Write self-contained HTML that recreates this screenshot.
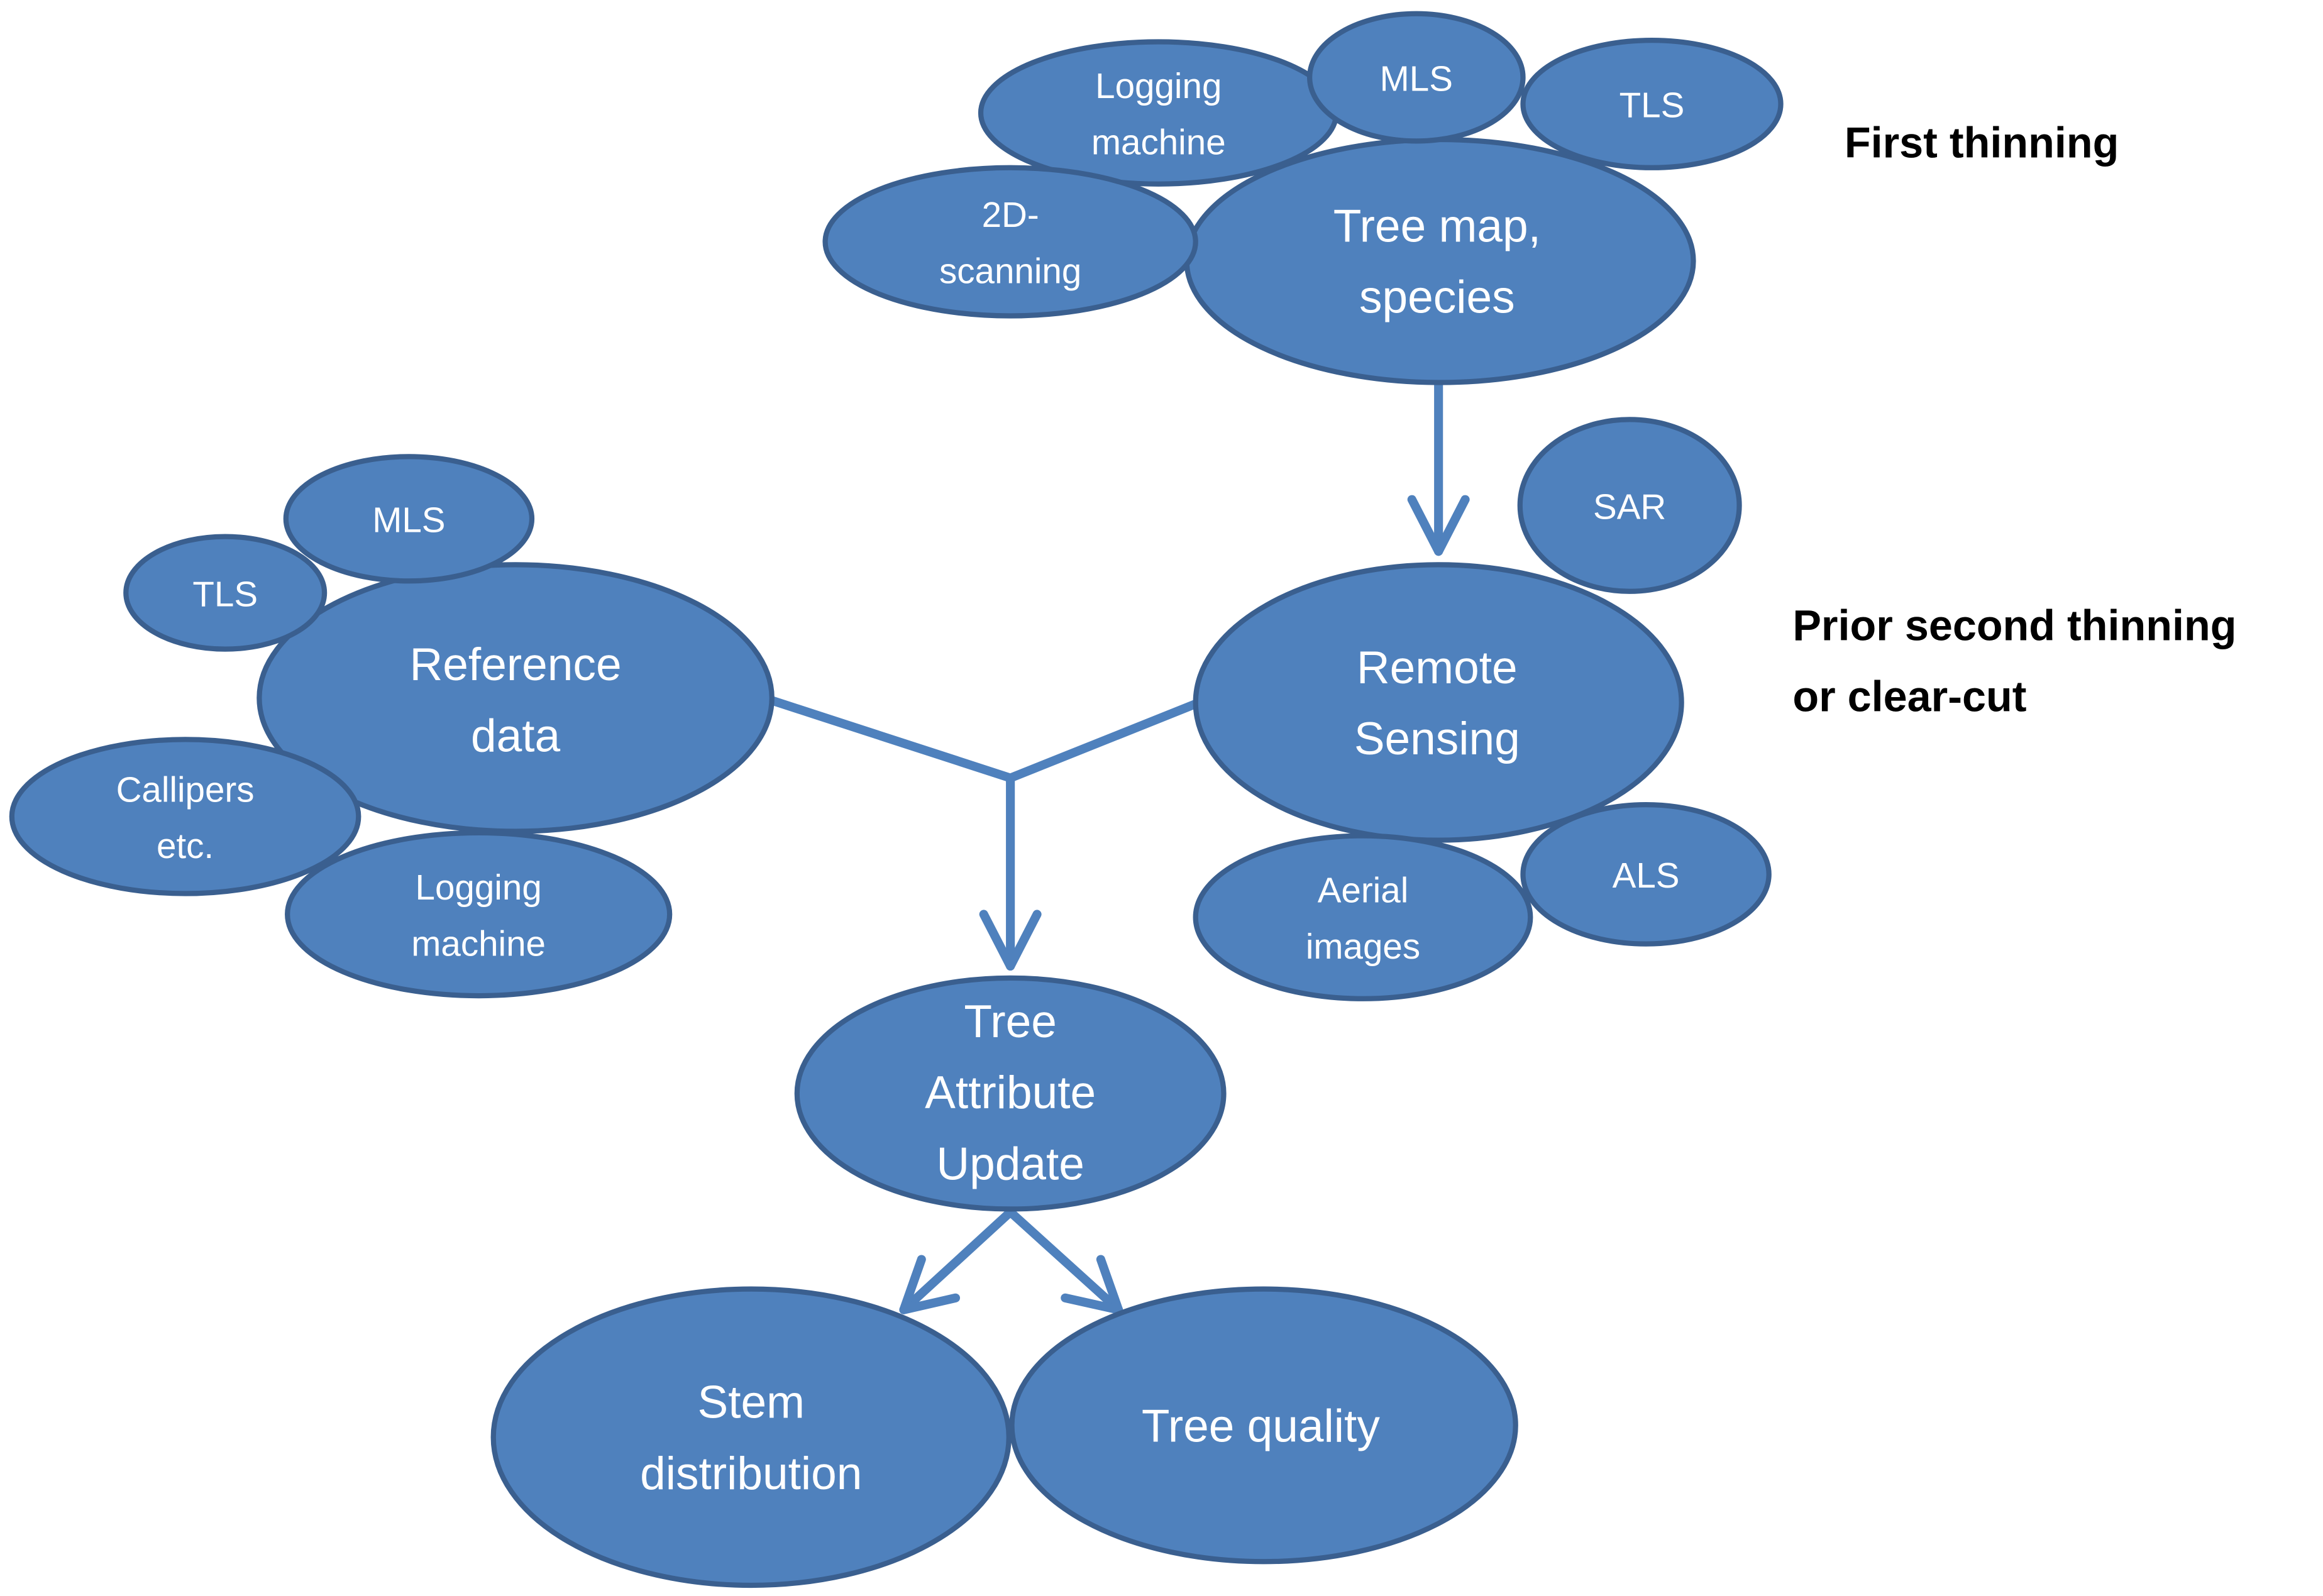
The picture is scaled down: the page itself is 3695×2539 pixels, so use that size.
<!DOCTYPE html>
<html><head><meta charset="utf-8"><style>html,body{margin:0;padding:0;background:#fff}svg{display:block}</style></head>
<body>
<svg width="3695" height="2539" viewBox="0 0 1568 1077" xmlns="http://www.w3.org/2000/svg">
<defs>
<marker id="a" viewBox="0 0 20 20" refX="10" refY="18" markerWidth="8" markerHeight="8" orient="auto-start-reverse" markerUnits="userSpaceOnUse"></marker>
</defs>
<g stroke="#4f81bd" stroke-width="6" fill="none" stroke-linecap="round" stroke-linejoin="round">
<line x1="971" y1="258" x2="971" y2="372"/>
<polyline points="953,337 971,372 989,337"/>
<polyline points="522,473 682,525 807,475"/>
<line x1="682" y1="525" x2="682" y2="652"/>
<polyline points="664,617 682,652 700,617"/>
<line x1="682" y1="818" x2="610" y2="884"/>
<polyline points="622,850 610,884 645,876"/>
<line x1="682" y1="818" x2="755" y2="884"/>
<polyline points="719,876 755,884 743,850"/>
</g>
<g fill="#4f81bd" stroke="#3a5f8f" stroke-width="3.5">
<ellipse cx="972" cy="176" rx="171" ry="82"/>
<ellipse cx="782" cy="76" rx="120" ry="48"/>
<ellipse cx="956" cy="52" rx="72" ry="43"/>
<ellipse cx="1115" cy="70" rx="87" ry="43"/>
<ellipse cx="682" cy="163" rx="125" ry="50"/>
<ellipse cx="1100" cy="341" rx="74" ry="58"/>
<ellipse cx="971" cy="474" rx="164" ry="93"/>
<ellipse cx="1111" cy="590" rx="83" ry="47"/>
<ellipse cx="920" cy="619" rx="113" ry="55"/>
<ellipse cx="348" cy="471" rx="173" ry="90"/>
<ellipse cx="276" cy="350" rx="83" ry="42"/>
<ellipse cx="152" cy="400" rx="67" ry="38"/>
<ellipse cx="125" cy="551" rx="117" ry="52"/>
<ellipse cx="323" cy="617" rx="129" ry="55"/>
<ellipse cx="682" cy="738" rx="144" ry="78"/>
<ellipse cx="507" cy="970" rx="174" ry="100"/>
<ellipse cx="853" cy="962" rx="170" ry="92"/>
</g>
<g fill="#fff" font-family="Liberation Sans, sans-serif" text-anchor="middle">
<g font-size="24">
<text x="782" y="66">Logging</text><text x="782" y="104">machine</text>
<text x="956" y="61">MLS</text>
<text x="1115" y="79">TLS</text>
<text x="682" y="153">2D-</text><text x="682" y="191">scanning</text>
<text x="1100" y="350">SAR</text>
<text x="1111" y="599">ALS</text>
<text x="920" y="609">Aerial</text><text x="920" y="647">images</text>
<text x="276" y="359">MLS</text>
<text x="152" y="409">TLS</text>
<text x="125" y="541">Callipers</text><text x="125" y="579">etc.</text>
<text x="323" y="607">Logging</text><text x="323" y="645">machine</text>
</g>
<g font-size="31">
<text x="970" y="163">Tree map,</text><text x="970" y="211">species</text>
<text x="970" y="461">Remote</text><text x="970" y="509">Sensing</text>
<text x="348" y="459">Reference</text><text x="348" y="507">data</text>
<text x="682" y="700">Tree</text><text x="682" y="748">Attribute</text><text x="682" y="796">Update</text>
<text x="507" y="957">Stem</text><text x="507" y="1005">distribution</text>
<text x="851" y="973">Tree quality</text>
</g>
</g>
<g fill="#000" font-family="Liberation Sans, sans-serif" font-weight="bold" font-size="29">
<text x="1245" y="106">First thinning</text>
<text x="1210" y="432">Prior second thinning</text>
<text x="1210" y="480">or clear-cut</text>
</g>
</svg>
</body></html>
